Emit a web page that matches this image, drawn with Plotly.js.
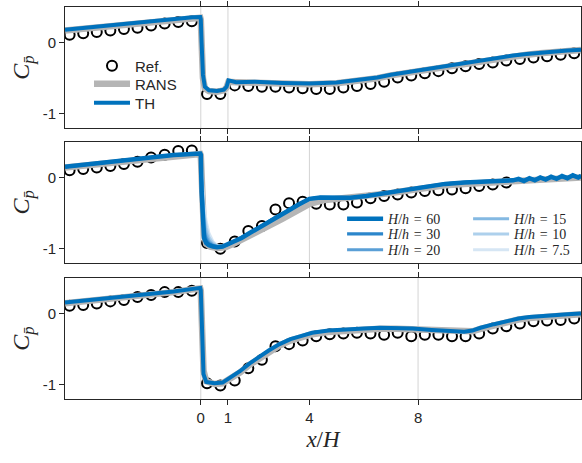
<!DOCTYPE html>
<html>
<head>
<meta charset="utf-8">
<script src="https://cdn.plot.ly/plotly-3.0.1.min.js"></script>
<style>html,body{margin:0;padding:0;background:#fff}#chart{width:582px;height:463px}</style>
</head>
<body>
<div id="chart"></div>
<script>
// ---- tick labels / gridlines ----
const xTickVals = [0, 1, 4, 8];
const xTickText = ['0', '1', '4', '8'];
const yTickVals = [-1, 0];
const yTickText = ['-1', '0'];
const gridTop = [0, 1];
const gridMid = [0, 4];
const gridBot = [0, 8];

// ---- reference (circles) ----
const refXTop = [-4.83,-4.33,-3.83,-3.33,-2.83,-2.33,-1.83,-1.33,-0.83,-0.33,0.23,0.72,1.25,1.75,2.25,2.75,3.25,3.75,4.25,4.75,5.25,5.75,6.25,6.75,7.25,7.75,8.25,8.75,9.25,9.75,10.25,10.75,11.25,11.75,12.25,12.75,13.25,13.75];
const refTop = [0.11,0.13,0.15,0.17,0.19,0.21,0.24,0.27,0.29,0.30,-0.72,-0.72,-0.60,-0.61,-0.62,-0.62,-0.63,-0.64,-0.65,-0.65,-0.63,-0.61,-0.58,-0.55,-0.49,-0.46,-0.43,-0.40,-0.36,-0.33,-0.30,-0.28,-0.25,-0.23,-0.21,-0.19,-0.17,-0.15];
const refXMid = [-4.83,-4.33,-3.83,-3.33,-2.83,-2.33,-1.83,-1.33,-0.83,-0.33,0.23,0.72,1.25,1.75,2.25,2.75,3.25,3.75,4.25,4.75,5.25,5.75,6.25,6.75,7.25,7.75,8.25,8.75,9.25,9.75,10.25,10.75,11.25];
const refMid = [0.10,0.12,0.14,0.16,0.19,0.22,0.28,0.32,0.37,0.38,-0.92,-1.0,-0.90,-0.75,-0.68,-0.45,-0.36,-0.34,-0.37,-0.38,-0.38,-0.35,-0.29,-0.26,-0.24,-0.21,-0.19,-0.18,-0.17,-0.15,-0.12,-0.10,-0.07];
const refXBot = [-4.83,-4.33,-3.83,-3.33,-2.83,-2.33,-1.83,-1.33,-0.83,-0.33,0.23,0.72,1.25,1.75,2.25,2.75,3.25,3.75,4.25,4.75,5.25,5.75,6.25,6.75,7.25,7.75,8.25,8.75,9.25,9.75,10.25,10.75,11.25,11.75,12.25,12.75,13.25,13.75];
const refBot = [0.11,0.12,0.14,0.17,0.19,0.23,0.26,0.30,0.30,0.32,-0.98,-1.01,-0.94,-0.77,-0.65,-0.46,-0.43,-0.38,-0.32,-0.29,-0.28,-0.27,-0.28,-0.30,-0.27,-0.32,-0.30,-0.30,-0.32,-0.32,-0.28,-0.21,-0.18,-0.14,-0.11,-0.10,-0.09,-0.07];

// ---- top panel lines ----
const xTop = [-5,-4,-3,-2,-1,-0.3,-0.02,0.0,0.03,0.08,0.15,0.3,0.6,0.85,0.95,1.02,1.3,2,3,4,5,5.5,6,6.5,7,7.5,8,8.5,9,9.5,10,10.5,11,11.5,12,12.5,13,13.5,14];
const thTop = [0.18,0.22,0.26,0.30,0.33,0.355,0.36,0.33,0.0,-0.45,-0.62,-0.67,-0.68,-0.66,-0.62,-0.53,-0.555,-0.55,-0.565,-0.575,-0.56,-0.54,-0.52,-0.49,-0.45,-0.42,-0.39,-0.35,-0.32,-0.29,-0.26,-0.23,-0.21,-0.18,-0.16,-0.14,-0.12,-0.11,-0.10];
const ransTop = [0.17,0.21,0.25,0.29,0.32,0.345,0.35,0.32,-0.05,-0.5,-0.64,-0.68,-0.69,-0.67,-0.63,-0.55,-0.555,-0.565,-0.575,-0.585,-0.57,-0.55,-0.53,-0.50,-0.46,-0.43,-0.40,-0.36,-0.33,-0.30,-0.27,-0.24,-0.22,-0.19,-0.17,-0.15,-0.13,-0.115,-0.105];

// ---- middle panel lines ----
const xMid = [-5,-4,-3,-2,-1,-0.02,0,0.03,0.07,0.12,0.2,0.3,0.45,0.6,0.8,1.0,1.2,1.5,1.8,2.1,2.4,2.8,3.2,3.6,4.0,4.4,5.0,5.5,6.1,6.6,7.0,7.5,8.0,8.5,9.0,9.7,10.5,11.0,11.5,11.7,11.9,12.1,12.3,12.5,12.7,12.9,13.1,13.3,13.5,13.7,13.9,14.0];
const th60 = [0.15,0.19,0.235,0.28,0.315,0.335,0.32,-0.2,-0.65,-0.85,-0.92,-0.95,-0.97,-0.98,-0.97,-0.94,-0.90,-0.85,-0.78,-0.71,-0.64,-0.55,-0.47,-0.38,-0.30,-0.28,-0.28,-0.285,-0.26,-0.23,-0.20,-0.17,-0.14,-0.11,-0.09,-0.07,-0.06,-0.05,-0.04,-0.02,-0.05,-0.01,-0.04,0.0,-0.03,0.01,-0.02,0.02,-0.01,0.03,0.0,0.02];
const th30 = [0.15,0.19,0.235,0.28,0.315,0.335,0.32,-0.1,-0.55,-0.78,-0.88,-0.93,-0.96,-0.975,-0.97,-0.94,-0.90,-0.85,-0.78,-0.71,-0.64,-0.55,-0.47,-0.38,-0.30,-0.28,-0.28,-0.285,-0.26,-0.23,-0.20,-0.17,-0.14,-0.11,-0.09,-0.07,-0.06,-0.05,-0.04,-0.03,-0.04,-0.02,-0.03,-0.01,-0.02,0.0,-0.01,0.01,0.0,0.02,0.01,0.02];
const th20 = [0.15,0.19,0.235,0.28,0.315,0.335,0.32,-0.05,-0.45,-0.70,-0.84,-0.91,-0.95,-0.97,-0.97,-0.94,-0.90,-0.85,-0.78,-0.71,-0.64,-0.55,-0.47,-0.38,-0.30,-0.28,-0.28,-0.285,-0.26,-0.23,-0.20,-0.17,-0.14,-0.11,-0.09,-0.07,-0.06,-0.05,-0.04,-0.03,-0.04,-0.02,-0.03,-0.01,-0.02,0.0,-0.01,0.01,0.0,0.02,0.01,0.02];
const th15 = [0.15,0.19,0.235,0.28,0.315,0.335,0.32,0.0,-0.35,-0.60,-0.78,-0.88,-0.94,-0.965,-0.97,-0.94,-0.90,-0.85,-0.78,-0.71,-0.64,-0.55,-0.47,-0.38,-0.30,-0.28,-0.28,-0.285,-0.26,-0.23,-0.20,-0.17,-0.14,-0.11,-0.09,-0.07,-0.06,-0.05,-0.04,-0.03,-0.04,-0.02,-0.03,-0.01,-0.02,0.0,-0.01,0.01,0.0,0.02,0.01,0.02];
const th10 = [0.15,0.19,0.235,0.28,0.315,0.335,0.32,0.05,-0.25,-0.50,-0.70,-0.84,-0.92,-0.96,-0.97,-0.94,-0.90,-0.85,-0.78,-0.71,-0.64,-0.55,-0.47,-0.38,-0.30,-0.28,-0.28,-0.285,-0.26,-0.23,-0.20,-0.17,-0.14,-0.11,-0.09,-0.07,-0.06,-0.05,-0.04,-0.03,-0.04,-0.02,-0.03,-0.01,-0.02,0.0,-0.01,0.01,0.0,0.02,0.01,0.02];
const th7_5 = [0.15,0.19,0.235,0.28,0.315,0.335,0.32,0.1,-0.15,-0.40,-0.62,-0.78,-0.90,-0.955,-0.97,-0.94,-0.90,-0.85,-0.78,-0.71,-0.64,-0.55,-0.47,-0.38,-0.30,-0.28,-0.28,-0.285,-0.26,-0.23,-0.20,-0.17,-0.14,-0.11,-0.09,-0.07,-0.06,-0.05,-0.04,-0.03,-0.04,-0.02,-0.03,-0.01,-0.02,0.0,-0.01,0.01,0.0,0.02,0.01,0.02];
const xRansMid = [-5,-4,-3,-2,-1,-0.02,0,0.05,0.12,0.2,0.35,0.6,0.9,1.2,1.6,2.0,2.5,3.0,3.5,4.0,4.5,5.0,5.5,6.0,6.6,7.0,7.5,8.0,8.5,9.0,9.7,10.5,11.5,12.5,13.5,14];
const ransMid = [0.14,0.18,0.225,0.27,0.305,0.33,0.31,-0.3,-0.8,-0.93,-0.97,-0.99,-0.98,-0.93,-0.86,-0.78,-0.68,-0.58,-0.47,-0.37,-0.32,-0.30,-0.30,-0.28,-0.25,-0.22,-0.19,-0.16,-0.13,-0.11,-0.09,-0.07,-0.05,-0.03,-0.01,0.0];
const hhLabels = ['60', '30', '20', '15', '10', '7.5'];

// ---- bottom panel lines ----
const xBot = [-5,-4,-3,-2,-1,-0.3,-0.02,0,0.04,0.1,0.2,0.5,0.8,1.1,1.44,1.8,2.18,2.5,2.9,3.3,3.65,4.1,4.7,5.4,6.0,6.6,7.2,7.8,8.5,9.1,9.7,10.0,10.3,10.8,11.3,11.7,12.1,12.5,13.0,13.5,14];
const thBot = [0.155,0.19,0.23,0.27,0.31,0.35,0.36,0.33,-0.3,-0.85,-0.96,-0.98,-0.97,-0.90,-0.81,-0.70,-0.60,-0.52,-0.43,-0.36,-0.32,-0.27,-0.24,-0.22,-0.21,-0.20,-0.20,-0.21,-0.23,-0.245,-0.255,-0.24,-0.20,-0.15,-0.10,-0.07,-0.05,-0.035,-0.02,-0.01,0.0];
const ransBot = [0.145,0.18,0.22,0.26,0.30,0.34,0.35,0.32,-0.2,-0.8,-0.95,-0.99,-0.98,-0.92,-0.83,-0.72,-0.62,-0.54,-0.45,-0.38,-0.34,-0.29,-0.26,-0.235,-0.225,-0.215,-0.215,-0.225,-0.24,-0.255,-0.265,-0.25,-0.215,-0.165,-0.115,-0.085,-0.065,-0.05,-0.035,-0.02,-0.01];

// ---- styles ----
const INK = '#262626';
const BLUE = '#0072BD';
const GRAY = '#b5b5b5';
const hhColors = ['#0072BD', '#2b86cb', '#5a9fd6', '#84b9e2', '#add0ec', '#d6e6f4'];
const hhWidths = [4.5, 3.2, 3, 3, 3, 3];
const hhLegend = ['legend4', 'legend5', 'legend6', 'legend4', 'legend5', 'legend6'];
const hhRank = [1, 1, 1, 2, 2, 2];
const hhEntryW = [75, 75, 75, 56, 56, 56];

function refTrace(x, y, xa, ya, show) {
  return {x: x, y: y, xaxis: xa, yaxis: ya, type: 'scatter', mode: 'markers', name: 'Ref.',
    showlegend: show, legend: 'legend',
    marker: {symbol: 'circle-open', size: 10, color: '#000', line: {width: 2, color: '#000'}}};
}
function ransTrace(x, y, xa, ya, show) {
  return {x: x, y: y, xaxis: xa, yaxis: ya, type: 'scatter', mode: 'lines', name: 'RANS',
    showlegend: show, legend: 'legend2', line: {color: GRAY, width: 6.5}};
}

const traces = [];
// top
traces.push(refTrace(refXTop, refTop, 'x', 'y', true));
traces.push(ransTrace(xTop, ransTop, 'x', 'y', true));
traces.push({x: xTop, y: thTop, xaxis: 'x', yaxis: 'y', type: 'scatter', mode: 'lines', name: 'TH',
  legend: 'legend3', line: {color: BLUE, width: 4}});
// middle
traces.push(refTrace(refXMid, refMid, 'x2', 'y2', false));
traces.push(ransTrace(xRansMid, ransMid, 'x2', 'y2', false));
const hhData = [th60, th30, th20, th15, th10, th7_5];
for (let i = hhData.length - 1; i >= 0; i--) {
  traces.push({x: xMid, y: hhData[i], xaxis: 'x2', yaxis: 'y2', type: 'scatter', mode: 'lines',
    name: '<i>H</i>/<i>h</i>\u2004=\u2004' + hhLabels[i], legend: hhLegend[i], legendrank: hhRank[i],
    legendwidth: hhEntryW[i], line: {color: hhColors[i], width: hhWidths[i]}});
}
// bottom
traces.push(refTrace(refXBot, refBot, 'x3', 'y3', false));
traces.push(ransTrace(xBot, ransBot, 'x3', 'y3', false));
traces.push({x: xBot, y: thBot, xaxis: 'x3', yaxis: 'y3', type: 'scatter', mode: 'lines', name: 'TH',
  showlegend: false, line: {color: BLUE, width: 4}});

const tickFont = {family: 'Liberation Sans, Arial, sans-serif', size: 15, color: INK};
function xAxis(anchor, labels) {
  return {domain: [0, 1], anchor: anchor, range: [-5, 14], tickmode: 'array', tickvals: xTickVals,
    ticktext: xTickText, showticklabels: labels, ticks: 'outside', ticklen: 5, tickwidth: 1,
    tickcolor: INK, showline: true, linecolor: INK, linewidth: 1, mirror: 'ticks',
    showgrid: false, zeroline: false, tickfont: tickFont};
}
const yTitle = {text: '<i>C</i><sub><i>p\u0304</i></sub>', font: {family: 'Liberation Serif, serif', size: 24, color: INK}, standoff: 6};
function yAxis(anchor, domain) {
  return {domain: domain, anchor: anchor, range: [-1.2, 0.5], tickmode: 'array', tickvals: yTickVals,
    ticktext: yTickText, ticks: 'outside', ticklen: 5, tickwidth: 1, tickcolor: INK,
    showline: true, linecolor: INK, linewidth: 1, mirror: true, showgrid: false, zeroline: false,
    tickfont: tickFont, title: yTitle};
}

const shapes = [];
function addGrid(vals, xr, yr) {
  vals.forEach(v => shapes.push({type: 'line', xref: xr, yref: yr + ' domain', x0: v, x1: v, y0: 0, y1: 1,
    layer: 'below', line: {color: '#d4d4d4', width: 1}}));
}
addGrid(gridTop, 'x', 'y');
addGrid(gridMid, 'x2', 'y2');
addGrid(gridBot, 'x3', 'y3');

const legTop = {font: {family: 'Liberation Sans, Arial, sans-serif', size: 15, color: INK},
  bgcolor: 'rgba(0,0,0,0)', borderwidth: 0, x: 0.0465, xanchor: 'left', yanchor: 'middle',
  orientation: 'h', itemwidth: 36};
const legMid = {font: {family: 'Liberation Serif, serif', size: 14, color: INK},
  bgcolor: 'rgba(0,0,0,0)', borderwidth: 0, x: 0.537, xanchor: 'left', yanchor: 'middle',
  orientation: 'h', itemwidth: 36, traceorder: 'normal'};

const layout = {
  width: 582, height: 463,
  margin: {l: 65, r: 1, t: 7, b: 64},
  paper_bgcolor: '#fff', plot_bgcolor: '#fff',
  font: {family: 'Liberation Sans, Arial, sans-serif', color: INK},
  xaxis: xAxis('y', false),
  xaxis2: xAxis('y2', false),
  xaxis3: Object.assign(xAxis('y3', true), {title: {text: '<i>x</i>/<i>H</i>',
    font: {family: 'Liberation Serif, serif', size: 23, color: INK}, standoff: 5}}),
  yaxis: yAxis('x', [0.691, 1]),
  yaxis2: yAxis('x2', [0.347, 0.656]),
  yaxis3: yAxis('x3', [0, 0.309]),
  shapes: shapes,
  legend: Object.assign({}, legTop, {y: 0.8495}),
  legend2: Object.assign({}, legTop, {y: 0.8036}),
  legend3: Object.assign({}, legTop, {y: 0.755}),
  legend4: Object.assign({}, legMid, {y: 0.459}),
  legend5: Object.assign({}, legMid, {y: 0.420}),
  legend6: Object.assign({}, legMid, {y: 0.380}),
  showlegend: true
};

Plotly.newPlot('chart', traces, layout, {staticPlot: true, displayModeBar: false});
</script>
</body>
</html>
